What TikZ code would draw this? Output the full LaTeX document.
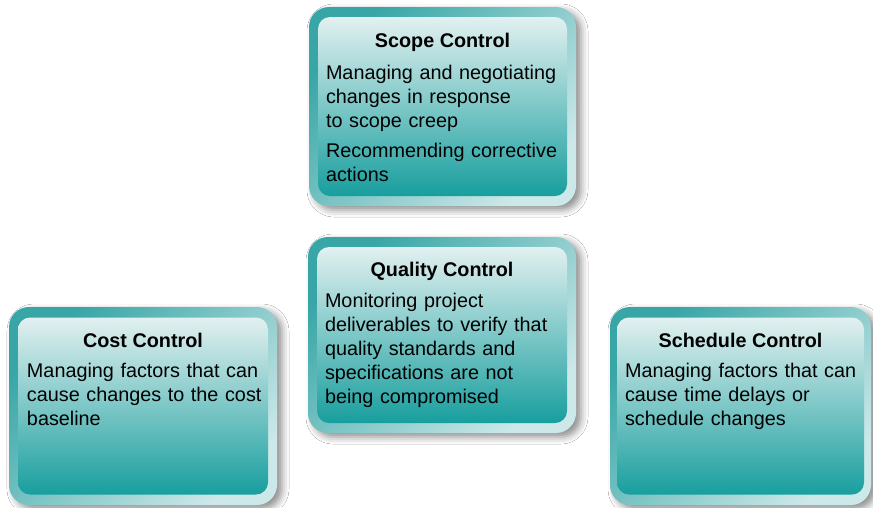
\documentclass[tikz,border=0pt]{standalone}
\usepackage{fontspec}
\setmainfont{Liberation Sans}
\usetikzlibrary{calc,shadows.blur}
\definecolor{frameteal}{RGB}{56,166,166}
\definecolor{framepale}{RGB}{204,232,233}
\definecolor{panelpale}{RGB}{226,240,240}
\definecolor{panelteal}{RGB}{24,158,158}
\begin{document}
\begin{tikzpicture}[x=1pt,y=-1pt,
  ctrlframe/.style={rectangle,rounded corners=20pt,inner sep=0pt,
    top color=frameteal,bottom color=framepale,shading angle=45,
    blur shadow={shadow xshift=5pt,shadow yshift=-4pt,shadow blur radius=7pt,shadow opacity=45}},
  ctrlpanel/.style={rectangle,rounded corners=12pt,inner sep=0pt,
    top color=panelpale,bottom color=panelteal},
  ctrltitle/.style={anchor=base,inner sep=0pt,font=\bfseries\fontsize{19.8}{24}\selectfont},
  ctrlbody/.style={anchor=base west,inner sep=0pt,align=left,font=\fontsize{19.8}{24}\selectfont}]
  \useasboundingbox[fill=white] (0,0) rectangle (873,507);

  % scope
  \node[ctrlframe,minimum width=267pt,minimum height=199pt] (scopeframe) at (442.5,106.5) {};
  \node[ctrlpanel,minimum width=249pt,minimum height=179pt] (scopepanel) at (scopeframe.center) {};
  \node[ctrltitle] (scopetitle) at ($(scopepanel.north)+(0,31)$) {Scope Control};
  \node[ctrlbody,text width=240pt] (scopebody) at ($(scopepanel.north west)+(8,63)$)
    {Managing and negotiating\\changes in response\\to scope creep\\[6pt]Recommending corrective\\actions};

  % quality
  \node[ctrlframe,minimum width=268pt,minimum height=196pt] (qualityframe) at (442,335) {};
  \node[ctrlpanel,minimum width=250pt,minimum height=176pt] (qualitypanel) at (qualityframe.center) {};
  \node[ctrltitle] (qualitytitle) at ($(qualitypanel.north)+(0,30)$) {Quality Control};
  \node[ctrlbody,text width=240pt] (qualitybody) at ($(qualitypanel.north west)+(8,61)$)
    {Monitoring project\\deliverables to verify that\\quality standards and\\specifications are not\\being compromised};

  % cost
  \node[ctrlframe,minimum width=268pt,minimum height=198pt] (costframe) at (143,406) {};
  \node[ctrlpanel,minimum width=250pt,minimum height=177pt] (costpanel) at (costframe.center) {};
  \node[ctrltitle] (costtitle) at ($(costpanel.north)+(0,30)$) {Cost Control};
  \node[ctrlbody,text width=240pt] (costbody) at ($(costpanel.north west)+(9,60)$)
    {Managing factors that can\\cause changes to the cost\\baseline};

  % schedule
  \node[ctrlframe,minimum width=261pt,minimum height=198pt] (scheduleframe) at (740.5,406) {};
  \node[ctrlpanel,minimum width=247pt,minimum height=177pt] (schedulepanel) at (scheduleframe.center) {};
  \node[ctrltitle] (scheduletitle) at ($(schedulepanel.north)+(0,30)$) {Schedule Control};
  \node[ctrlbody,text width=240pt] (schedulebody) at ($(schedulepanel.north west)+(8,60)$)
    {Managing factors that can\\cause time delays or\\schedule changes};
\end{tikzpicture}
\end{document}
